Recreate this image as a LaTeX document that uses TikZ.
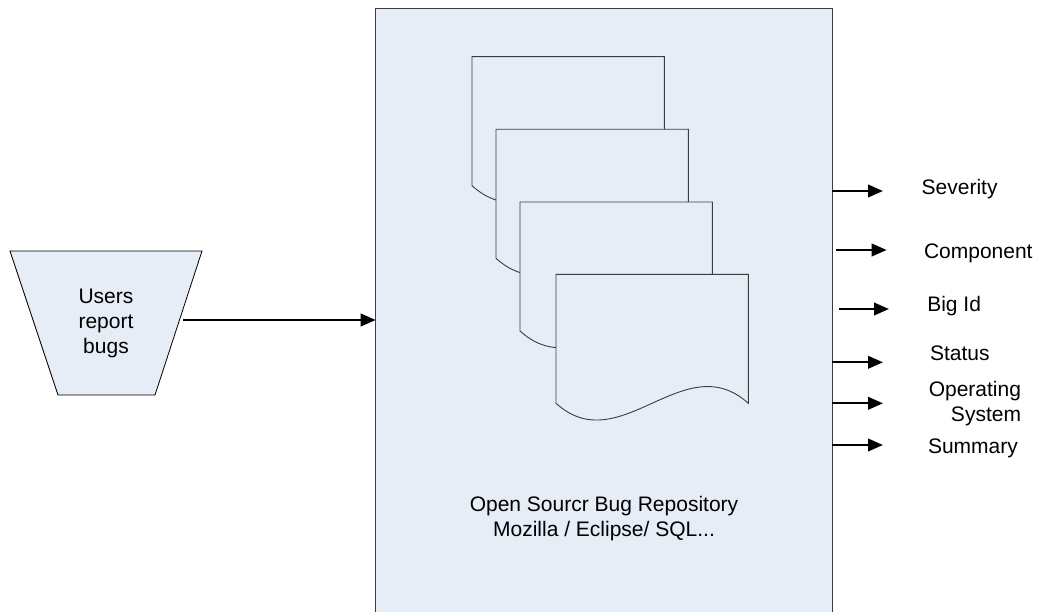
\documentclass[tikz,border=0pt]{standalone}
\usepackage{fontspec}
\setmainfont{Liberation Sans}
\usetikzlibrary{arrows.meta}
\definecolor{panel}{RGB}{231,237,247}
\definecolor{edge}{RGB}{60,60,60}
\tikzset{
  lbl/.style={font=\fontsize{21}{25}\selectfont, inner sep=0pt, outer sep=0pt},
  arr/.style={line width=2.3pt, -{Triangle[length=15pt,width=12.5pt]}},
  docline/.style={draw=edge, line width=0.9pt, fill=panel},
  docpage/.pic={
    \path[docline] (0,0) -- (0,129) .. controls (64,187) and (128,71) .. (192.3,129) -- (192.3,0) -- cycle;
  }
}
\begin{document}
\begin{tikzpicture}[x=1pt,y=-1pt]
\useasboundingbox (0,0) rectangle (1038,612);
\clip (0,0) rectangle (1038,612);

% repository panel (runs past the lower edge)
\node[draw=edge, line width=1pt, fill=panel, minimum width=456.6pt, minimum height=700pt,
      inner sep=0pt, outer sep=0pt, anchor=north west] (box) at (375.7,8.3) {};

% stacked bug reports
\pic at (472,56.7) {docpage};
\pic at (496,129.3) {docpage};
\pic at (520,202) {docpage};
\pic at (556,274.3) {docpage};

\node[lbl, align=center] (repo) at (604,518.9) {Open Sourcr Bug Repository\\Mozilla / Eclipse/ SQL...};

% users funnel
\path[draw=black, line width=0.8pt, fill=panel] (10,251) -- (202,251) -- (155,395) -- (58,395) -- cycle;
\node[lbl, align=center] (users) at (106,323.7) {Users\\report\\bugs};

\coordinate (uo) at (183,320);
\draw[arr] (uo) -- (uo -| box.west);

% extracted fields
\node[lbl, anchor=base west] (sev) at (921.7,195) {Severity};
\node[lbl, anchor=base west] (comp) at (924,258.3) {Component};
\node[lbl, anchor=base west] (bid) at (927.3,311.7) {Big Id};
\node[lbl, anchor=base west] (stat) at (930,360) {Status};
\node[lbl, align=right, anchor=north east] (os) at (1021,381.6) {Operating\\System};
\node[lbl, anchor=base west] (summ) at (928,453.3) {Summary};

\coordinate (a1) at (832,191);   \coordinate (b1) at (883,191);
\coordinate (a2) at (835.7,250); \coordinate (b2) at (886.7,250);
\coordinate (a3) at (839,309);   \coordinate (b3) at (889,309);
\coordinate (a4) at (832,362.3); \coordinate (b4) at (883,362.3);
\coordinate (a5) at (832,403.3); \coordinate (b5) at (883,403.3);
\coordinate (a6) at (832,445);   \coordinate (b6) at (883,445);
\foreach \i in {1,...,6}{ \draw[arr] (a\i) -- (b\i); }
\end{tikzpicture}
\end{document}
